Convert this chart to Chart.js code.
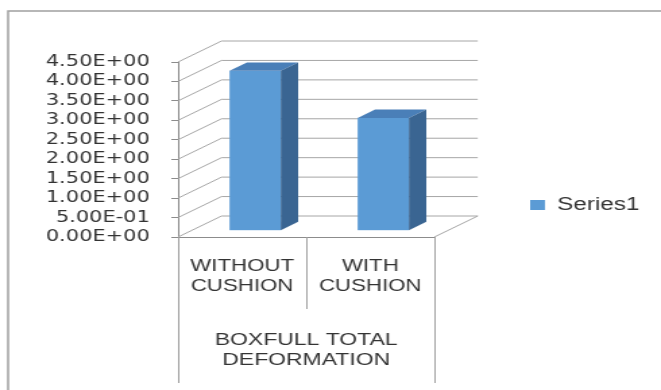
<!DOCTYPE html>
<html>
<head>
<meta charset="utf-8">
<script src="https://cdn.jsdelivr.net/npm/chart.js@4/dist/chart.umd.min.js"></script>
<style>
  html, body { margin: 0; padding: 0; background: #fff; overflow: hidden; }
  /* the reference is a horizontally stretched screenshot, so draw narrow and stretch */
  #wrap { width: 490px; height: 390px; transform: scaleX(1.349); transform-origin: 0 0; }
</style>
</head>
<body>
<div id="wrap"><canvas id="chart"></canvas></div>
<script>
var categories = [["WITHOUT", "CUSHION"], ["WITH", "CUSHION"]];
var groupTitle = ["BOXFULL TOTAL", "DEFORMATION"];
var seriesName = "Series1";
var deformation = [4.11, 2.90];
var yMin = 0, yMax = 4.5, yStep = 0.5;

var FONT = "'Liberation Sans', Arial, sans-serif";
var NUM_FONT = "'DejaVu Sans', sans-serif";
var DX = 32.2, DY = 21;        // depth of the 3d box
var BAR_Z = 0.3, BAR_D = 0.4;  // where the bars sit in that depth

// excel style 0.00E+00
function sci(v) {
    var p = Number(v).toExponential(2).split("e");
    var e = parseInt(p[1], 10);
    return p[0] + "E" + (e < 0 ? "-" : "+") + String(Math.abs(e)).padStart(2, "0");
}

var box3d = {
    id: "box3d",
    beforeDraw: function (chart) {
        var ctx = chart.ctx;
        ctx.save();
        ctx.strokeStyle = "#a0a0a0";
        ctx.lineWidth = 1.5;
        ctx.beginPath();
        ctx.moveTo(6, chart.height);
        ctx.lineTo(6, 11);
        ctx.lineTo(chart.width, 11);
        ctx.stroke();
        ctx.restore();
    },
    beforeDatasetsDraw: function (chart) {
        var ctx = chart.ctx, a = chart.chartArea, y = chart.scales.y;
        ctx.save();
        ctx.strokeStyle = "#a6a6a6";
        ctx.lineWidth = 1;
        y.ticks.forEach(function (t) {
            var py = y.getPixelForValue(t.value);
            ctx.beginPath();
            ctx.moveTo(a.left, py);
            ctx.lineTo(a.left + DX, py - DY);
            ctx.lineTo(a.right + DX, py - DY);
            ctx.stroke();
        });
        ctx.beginPath();
        ctx.moveTo(a.right, a.bottom);
        ctx.lineTo(a.right + DX, a.bottom - DY);
        ctx.stroke();
        ctx.restore();

        // bars stand a bit back from the front edge
        ctx.save();
        ctx.translate(BAR_Z * DX, -BAR_Z * DY);
    },
    afterDatasetsDraw: function (chart) {
        var ctx = chart.ctx;
        var dx = BAR_D * DX, dy = BAR_D * DY;
        chart.getDatasetMeta(0).data.forEach(function (bar) {
            var l = bar.x - bar.width / 2, r = bar.x + bar.width / 2, t = bar.y, b = bar.base;
            ctx.fillStyle = "#4a7fb8";
            ctx.beginPath();
            ctx.moveTo(l, t); ctx.lineTo(r, t); ctx.lineTo(r + dx, t - dy); ctx.lineTo(l + dx, t - dy);
            ctx.closePath();
            ctx.fill();
            ctx.fillStyle = "#3a6592";
            ctx.beginPath();
            ctx.moveTo(r, t); ctx.lineTo(r + dx, t - dy); ctx.lineTo(r + dx, b - dy); ctx.lineTo(r, b);
            ctx.closePath();
            ctx.fill();
        });
        ctx.restore();
    },
    afterDraw: function (chart) {
        // dividers of the two level category axis
        var ctx = chart.ctx, x = chart.scales.x, a = chart.chartArea;
        var n = categories.length;
        var half = (x.getPixelForValue(1) - x.getPixelForValue(0)) / 2;
        ctx.save();
        ctx.strokeStyle = "#a0a0a0";
        ctx.lineWidth = 1;
        for (var i = 0; i <= n; i++) {
            var px = Math.round(x.getPixelForValue(0) - half + 2 * half * i) + 0.5;
            var len = (i === 0 || i === n) ? 146 : 72;
            ctx.beginPath();
            ctx.moveTo(px, a.bottom);
            ctx.lineTo(px, a.bottom + len);
            ctx.stroke();
        }
        ctx.restore();
    }
};

new Chart("chart", {
    type: "bar",
    data: {
        labels: categories,
        datasets: [{
            label: seriesName,
            data: deformation,
            backgroundColor: "#5b9bd5",
            barPercentage: 0.4,
            categoryPercentage: 1
        }]
    },
    plugins: [box3d],
    options: {
        responsive: true,
        maintainAspectRatio: false,
        animation: false,
        layout: { padding: { top: 62, bottom: 42, left: 33, right: 6 } },
        plugins: {
            tooltip: { enabled: false },
            legend: {
                position: "right",
                maxWidth: 168,
                labels: {
                    boxWidth: 11,
                    boxHeight: 10,
                    padding: 71,
                    color: "#333",
                    font: { family: FONT, size: 18 }
                }
            }
        },
        scales: {
            x: {
                afterFit: function (s) { s.height = 111; },
                grid: { display: false },
                border: { display: true, color: "#8c8c8c" },
                ticks: {
                    padding: 11,
                    color: "#333",
                    font: { family: FONT, size: 16.5, lineHeight: 1.25 }
                },
                title: {
                    display: true,
                    text: groupTitle,
                    color: "#333",
                    font: { family: FONT, size: 17, lineHeight: 1.18 },
                    padding: { top: 33, bottom: -22 }
                }
            },
            y: {
                min: yMin,
                max: yMax,
                afterFit: function (s) { s.width = 99; },
                grid: { drawOnChartArea: false, drawTicks: true, tickLength: 5, color: "#8c8c8c" },
                border: { display: true, color: "#8c8c8c" },
                ticks: {
                    stepSize: yStep,
                    autoSkip: false,
                    padding: 16,
                    color: "#333",
                    font: { family: NUM_FONT, size: 15.5 },
                    callback: function (v) { return sci(v); }
                }
            }
        }
    }
});
</script>
</body>
</html>
